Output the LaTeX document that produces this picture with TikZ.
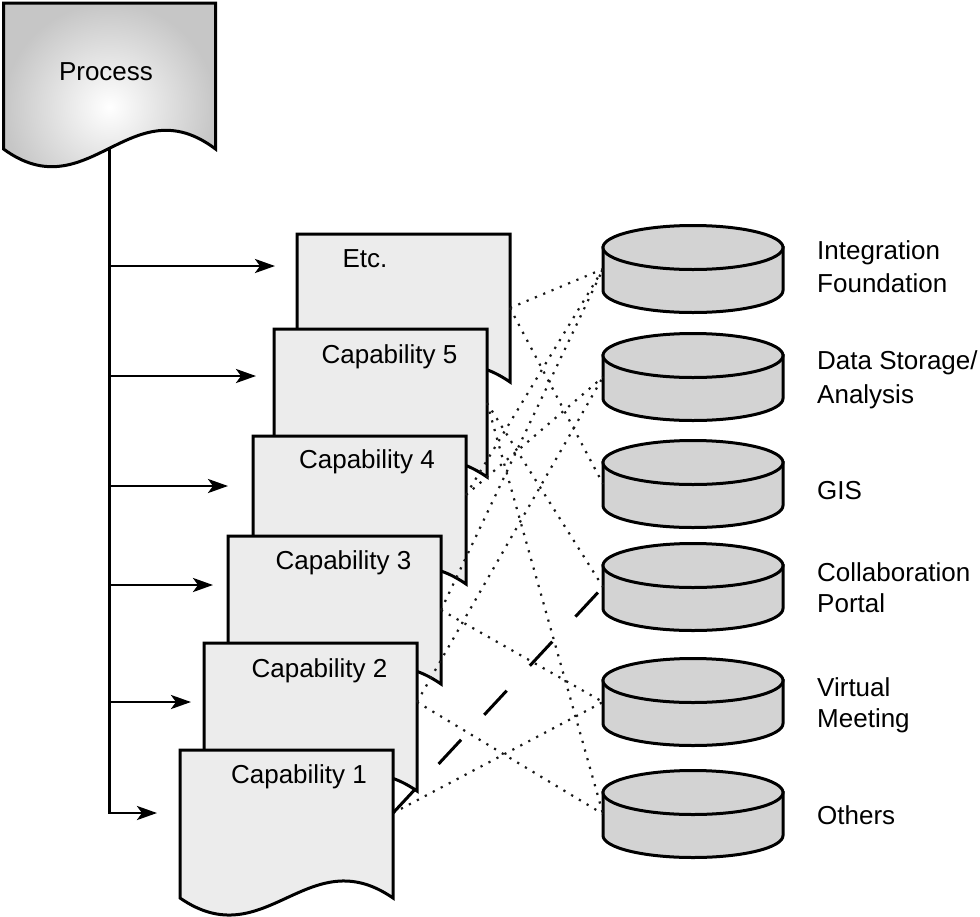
\documentclass[tikz,border=0pt]{standalone}
\usepackage{fontspec}
\setmainfont{Liberation Sans}
\usetikzlibrary{arrows.meta,calc}
\definecolor{docfill}{HTML}{ECECEC}
\definecolor{cylfill}{HTML}{D3D3D3}
\definecolor{procedge}{HTML}{C6C6C6}

\newcommand\mydoc[3]{%
  \node[docbox, anchor=north west] (#1) at (#2,#3) {};
  \path[docpath] (#1.north west) -- (#1.north east) -- (#1.south east)
     .. controls +(-85.2,-59) and +(85.2,59) .. (#1.south west) -- cycle;}

\newcommand\mycyl[3]{%
  \node[cylbox] (#1) at (#2,#3) {};
  \path[cylpath] ([yshift=21.5pt]#1.west) -- ([yshift=-21.5pt]#1.west)
     arc[start angle=180, end angle=360, x radius=90pt, y radius=22pt]
     -- ([yshift=21.5pt]#1.east) -- cycle;
  \path[cylpath] ([yshift=21.5pt]#1.center) ellipse [x radius=90pt, y radius=22pt];}

\begin{document}
\begin{tikzpicture}[x=1pt, y=-1pt,
  docbox/.style={inner sep=0pt, outer sep=0pt, minimum width=213pt, minimum height=148pt},
  docpath/.style={draw=black, fill=docfill, line width=3pt, line join=miter},
  procpath/.style={draw=black, line width=3pt, inner color=white, outer color=procedge},
  cylbox/.style={inner sep=0pt, outer sep=0pt, minimum width=180pt, minimum height=87pt},
  cylpath/.style={draw=black, fill=cylfill, line width=3pt},
  flow/.style={line width=2.8pt, -{Stealth[length=20pt, width=14pt, inset=5pt]}},
  link/.style={line width=2.2pt, dash pattern=on 2.2pt off 6.8pt, black!90},
  dashlink/.style={line width=3pt, dash pattern=on 33pt off 34pt},
  txt/.style={anchor=base, inner sep=0pt, font=\fontsize{26pt}{31pt}\selectfont},
  lbl/.style={anchor=base west, inner sep=0pt, font=\fontsize{26pt}{31pt}\selectfont}]

\useasboundingbox (0,0) rectangle (980,916);

% Process document
\node[docbox, minimum width=212pt, minimum height=146pt, anchor=north west] (proc) at (3.5,3) {};
\path[procpath] (proc.north west) -- (proc.north east) -- (proc.south east)
   .. controls +(-84.8,-64) and +(84.8,62) .. (proc.south west) -- cycle;
\node[txt] (proctxt) at (106,80) {Process};

% trunk and arrows
\coordinate (br1) at (109.5,266);
\coordinate (br2) at (109.5,376);
\coordinate (br3) at (109.5,486);
\coordinate (br4) at (109.5,585);
\coordinate (br5) at (109.5,702);
\coordinate (br6) at (109.5,813);
\coordinate (tip1) at (275,266);
\coordinate (tip2) at (256,376);
\coordinate (tip3) at (228,486);
\coordinate (tip4) at (213,585);
\coordinate (tip5) at (191,702);
\coordinate (tip6) at (157,813);
\draw[flow] (proc.south) -- (br6) -- (tip6);
\draw[flow] (br1) -- (tip1);
\draw[flow] (br2) -- (tip2);
\draw[flow] (br3) -- (tip3);
\draw[flow] (br4) -- (tip4);
\draw[flow] (br5) -- (tip5);

% capability documents
\mydoc{de}{297}{234}
\node[txt] (dte) at (365,267) {Etc.};
\mydoc{d5}{274}{329}
\node[txt] (dt5) at (389.5,363) {Capability 5};
\mydoc{d4}{253}{436}
\node[txt] (dt4) at (367,468) {Capability 4};
\mydoc{d3}{228}{536}
\node[txt] (dt3) at (343.5,569) {Capability 3};
\mydoc{d2}{204}{643}
\node[txt] (dt2) at (319.5,677) {Capability 2};
\mydoc{d1}{180}{750}
\node[txt] (dt1) at (299,783) {Capability 1};

% cylinders
\mycyl{cI}{693}{269}
\mycyl{cD}{693}{377}
\mycyl{cG}{693}{484}
\mycyl{cC}{693}{587}
\mycyl{cV}{693}{702}
\mycyl{cO}{693}{814}

% links
\coordinate (pe) at (de.east);
\coordinate (p5) at (d5.east);
\coordinate (p4) at ([yshift=15pt]d4.east);
\coordinate (p3) at (d3.east);
\coordinate (p2) at ([yshift=15pt]d2.east);
\coordinate (p1) at ([yshift=11pt]d1.east);
\draw[link] (pe) -- (cI.west);
\draw[link] (pe) -- (cG.west);
\draw[link] (p5) -- (cC.west);
\draw[link] (p5) -- (cO.west);
\draw[link] (p4) -- (cI.west);
\draw[link] (p4) -- (cD.west);
\draw[link] (p3) -- (cI.west);
\draw[link] (p3) -- (cV.west);
\draw[link] (p2) -- (cD.west);
\draw[link] (p2) -- (cO.west);
\draw[link] (p1) -- (cV.west);
\draw[dashlink] (p1) -- (cC.west);

% labels
\node[lbl] (lI1) at (817,259) {Integration};
\node[lbl] (lI2) at (817,292) {Foundation};
\node[lbl] (lD1) at (817,369) {Data Storage/};
\node[lbl] (lD2) at (817,403) {Analysis};
\node[lbl] (lG) at (817,499) {GIS};
\node[lbl] (lC1) at (817,581) {Collaboration};
\node[lbl] (lC2) at (817,612) {Portal};
\node[lbl] (lV1) at (817,696) {Virtual};
\node[lbl] (lV2) at (817,727) {Meeting};
\node[lbl] (lO) at (817,824) {Others};
\end{tikzpicture}
\end{document}
